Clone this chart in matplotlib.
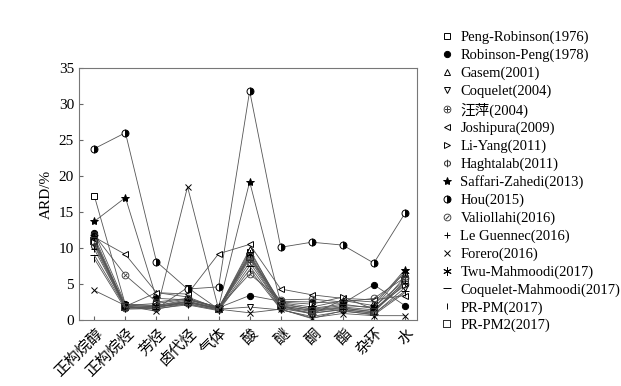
import matplotlib
matplotlib.use("Agg")
import matplotlib.pyplot as plt
from matplotlib.lines import Line2D

plt.rcParams['font.family'] = ['Liberation Serif', 'Noto Sans CJK SC']
plt.rcParams['mathtext.fontset'] = 'dejavusans'

cats = ['正构烷醇', '正构烷烃', '芳烃', '卤代烃', '气体', '酸', '醚', '酮', '酯', '杂环', '水']

names = ['Peng-Robinson(1976)', 'Robinson-Peng(1978)', 'Gasem(2001)', 'Coquelet(2004)',
         '汪萍(2004)', 'Joshipura(2009)', 'Li-Yang(2011)', 'Haghtalab(2011)',
         'Saffari-Zahedi(2013)', 'Hou(2015)', 'Valiollahi(2016)', 'Le Guennec(2016)',
         'Forero(2016)', 'Twu-Mahmoodi(2017)', 'Coquelet-Mahmoodi(2017)', 'PR-PM(2017)',
         'PR-PM2(2017)']

peng_robinson = [17.2, 2.1, 1.8, 2.6, 1.6, 9.5, 2.3, 1.5, 2.0, 1.8, 5.5]
robinson_peng = [12.1, 2.2, 2.0, 2.8, 1.7, 3.4, 2.6, 2.5, 2.3, 4.9, 2.0]
gasem = [11.0, 1.9, 3.8, 3.2, 1.6, 9.8, 2.0, 0.8, 2.8, 2.5, 6.5]
coquelet = [10.5, 1.8, 1.6, 4.5, 1.5, 1.8, 1.4, 0.5, 1.2, 0.8, 4.5]
wang_ping = [11.2, 1.7, 1.7, 2.4, 1.6, 8.0, 1.8, 1.2, 1.6, 1.2, 5.0]
joshipura = [11.5, 9.1, 3.8, 3.6, 9.2, 10.5, 4.3, 3.5, 3.0, 2.8, 3.4]
li_yang = [10.8, 2.0, 2.3, 2.9, 1.8, 8.8, 2.5, 2.2, 3.2, 1.5, 4.8]
haghtalab = [10.3, 1.6, 1.9, 2.2, 1.4, 8.5, 1.7, 1.0, 1.4, 1.0, 6.0]
saffari_zahedi = [13.7, 17.0, 3.0, 2.8, 1.8, 19.2, 2.4, 1.8, 2.7, 2.0, 7.0]
hou = [23.8, 26.0, 8.1, 4.3, 4.6, 31.8, 10.1, 10.8, 10.4, 7.9, 14.8]
valiollahi = [11.8, 6.2, 2.5, 3.0, 1.7, 6.4, 2.8, 2.9, 2.5, 3.0, 5.9]
le_guennec = [9.8, 1.8, 1.8, 2.5, 1.5, 9.0, 1.9, 1.4, 1.8, 1.4, 5.2]
forero = [4.1, 2.0, 1.2, 18.5, 1.5, 1.0, 1.5, 0.3, 0.9, 0.6, 0.6]
twu_mahmoodi = [11.5, 1.9, 2.0, 2.6, 1.6, 9.2, 2.1, 1.6, 2.2, 1.6, 6.8]
coquelet_mahmoodi = [9.0, 1.7, 1.5, 2.3, 1.4, 7.5, 1.6, 0.9, 1.5, 0.9, 4.0]
pr_pm = [8.5, 1.5, 1.6, 2.1, 1.3, 7.0, 1.5, 0.2, 1.3, 0.7, 3.8]
pr_pm2 = [10.9, 1.8, 1.8, 2.5, 1.5, 8.7, 2.0, 1.3, 1.7, 1.1, 5.4]

series = [peng_robinson, robinson_peng, gasem, coquelet, wang_ping, joshipura, li_yang,
          haghtalab, saffari_zahedi, hou, valiollahi, le_guennec, forero, twu_mahmoodi,
          coquelet_mahmoodi, pr_pm, pr_pm2]

# marker, face colour, size
styles = [
    ('s', 'white', 4.5),
    ('o', 'black', 4.5),
    ('^', 'white', 5),
    ('v', 'white', 5),
    (r'$\oplus$', '#333333', 5.5),
    ('<', 'white', 5),
    ('>', 'white', 5),
    (r'$\Phi$', '#333333', 5.5),
    ('*', 'black', 6),
    ('hou', 'black', 5),
    (r'$\oslash$', '#333333', 5.5),
    ('+', 'black', 5),
    ('x', 'black', 5),
    ((6, 2, 0), 'black', 6),
    ('_', 'black', 6),
    ('|', 'black', 5),
    (r'$\boxplus$', '#333333', 5.5),
]

fig = plt.figure(figsize=(6.21, 3.86), dpi=100)
ax = fig.add_axes([0.127, 0.171, 0.545, 0.653])

x = list(range(len(cats)))
handles = []
for vals, name, (m, fc, ms) in zip(series, names, styles):
    kw = dict(marker=m, markersize=ms, markeredgecolor='black', markerfacecolor=fc,
              markeredgewidth=0.7)
    if isinstance(m, str) and m.startswith('$'):
        kw.update(markeredgewidth=0, markeredgecolor=fc)
    if m == 'hou':
        kw.update(marker='o', fillstyle='right', markerfacecoloralt='white')
    ax.plot(x, vals, color='#555555', linewidth=0.6, **kw)
    handles.append(Line2D([], [], linestyle='none', **kw))

ax.set_xlim(-0.5, 10.4)
ax.set_ylim(0, 35)
ax.set_yticks(range(0, 36, 5))
ax.set_xticks(x)
ax.set_xticklabels(cats, rotation=45, ha='right', rotation_mode='anchor',
                   fontsize=11.5, family=['Noto Sans CJK SC'])
ax.set_ylabel('ARD/%', fontsize=11)
ax.tick_params(direction='in', length=3, labelsize=11, color='#666666')
for sp in ax.spines.values():
    sp.set_color('#777777')
    sp.set_linewidth(0.8)

fig.legend(handles, names, loc='upper left', bbox_to_anchor=(0.698, 0.935),
           frameon=False, labelspacing=0.3, handlelength=1.0,
           handletextpad=0.45, borderaxespad=0,
           prop={'family': ['Liberation Serif', 'Noto Sans CJK SC'], 'size': 10.5})

fig.savefig('out.png', dpi=100)
